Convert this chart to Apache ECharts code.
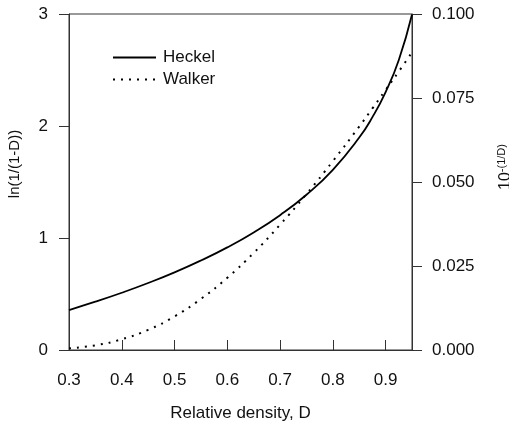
<!DOCTYPE html>
<html>
<head>
<meta charset="utf-8">
<script src="https://cdn.jsdelivr.net/npm/echarts@6/dist/echarts.min.js"></script>
<style>
  html, body { margin: 0; padding: 0; background: #fff; }
  #chart { width: 509px; height: 425px; }
</style>
</head>
<body>
<div id="chart"></div>
<script>
// relative density values
const density = [0.30, 0.35, 0.40, 0.45, 0.50, 0.55, 0.60, 0.65, 0.70, 0.75, 0.80, 0.85, 0.875, 0.90, 0.925, 0.95];
// ln(1/(1-D)), left axis
const heckel = [0.357, 0.431, 0.511, 0.598, 0.693, 0.799, 0.916, 1.050, 1.204, 1.386, 1.609, 1.897, 2.079, 2.303, 2.590, 2.996];
// 10^-(1/D), right axis
const walker = [0.0005, 0.0014, 0.0032, 0.0060, 0.0100, 0.0152, 0.0215, 0.0289, 0.0373, 0.0464, 0.0562, 0.0665, 0.0719, 0.0774, 0.0829, 0.0886];

const font = "Liberation Sans, Arial, sans-serif";
const axisColor = '#333';

const chart = echarts.init(document.getElementById('chart'));
chart.setOption({
    animation: false,
    grid: {
        left: 69, right: 97, top: 14, bottom: 75,
        outerBoundsMode: 'none',
        show: true, borderColor: axisColor, borderWidth: 1
    },
    legend: {
        orient: 'vertical',
        left: 107,
        top: 44,
        itemWidth: 43,
        itemHeight: 14,
        itemGap: 5,
        itemStyle: { opacity: 0 },
        data: ['Heckel', 'Walker'],
        textStyle: { fontFamily: font, fontSize: 17, color: '#111', padding: [0, 0, 0, 2] }
    },
    xAxis: {
        type: 'value',
        min: 0.3,
        max: 0.95,
        interval: 0.1,
        name: 'Relative density, D',
        nameLocation: 'middle',
        nameGap: 55,
        nameTextStyle: { fontFamily: font, fontSize: 17, color: '#111' },
        splitLine: { show: false },
        axisLine: { lineStyle: { color: axisColor } },
        axisTick: { inside: true, length: 10, lineStyle: { color: axisColor } },
        axisLabel: {
            showMaxLabel: false,
            margin: 22,
            fontFamily: font, fontSize: 17, color: '#111',
            formatter: v => v.toFixed(1)
        }
    },
    yAxis: [{
        type: 'value',
        min: 0,
        max: 3,
        interval: 1,
        name: 'ln(1/(1-D))',
        nameLocation: 'middle',
        nameGap: 47,
        nameTextStyle: { fontFamily: font, fontSize: 15, color: '#111', padding: [0, 0, 0, 36] },
        splitLine: { show: false },
        axisLine: { show: true, lineStyle: { color: axisColor } },
        axisTick: { show: true, length: 10, lineStyle: { color: axisColor } },
        axisLabel: { margin: 21, fontFamily: font, fontSize: 17, color: '#111' }
    }, {
        type: 'value',
        position: 'right',
        min: 0,
        max: 0.1,
        interval: 0.025,
        name: '10{sup|-(1/D)}',
        nameLocation: 'middle',
        nameGap: 84,
        nameTextStyle: {
            fontFamily: font, fontSize: 16, color: '#111', padding: [0, 0, 0, 30],
            rich: { sup: { fontFamily: font, fontSize: 11, verticalAlign: 'top', padding: [0, 0, 8, 0] } }
        },
        splitLine: { show: false },
        axisLine: { show: true, lineStyle: { color: axisColor } },
        axisTick: { show: true, length: 10, lineStyle: { color: axisColor } },
        axisLabel: {
            margin: 20, fontFamily: font, fontSize: 17, color: '#111',
            formatter: v => v.toFixed(3)
        }
    }],
    series: [{
        name: 'Heckel',
        type: 'line',
        yAxisIndex: 0,
        smooth: true,
        symbol: 'none',
        color: '#000',
        lineStyle: { color: '#000', width: 1.8 },
        data: density.map((d, i) => [d, heckel[i]])
    }, {
        name: 'Walker',
        type: 'line',
        yAxisIndex: 1,
        smooth: true,
        symbol: 'none',
        color: '#000',
        lineStyle: { color: '#000', width: 2, type: [2, 6] },
        data: density.map((d, i) => [d, walker[i]])
    }]
});
</script>
</body>
</html>
